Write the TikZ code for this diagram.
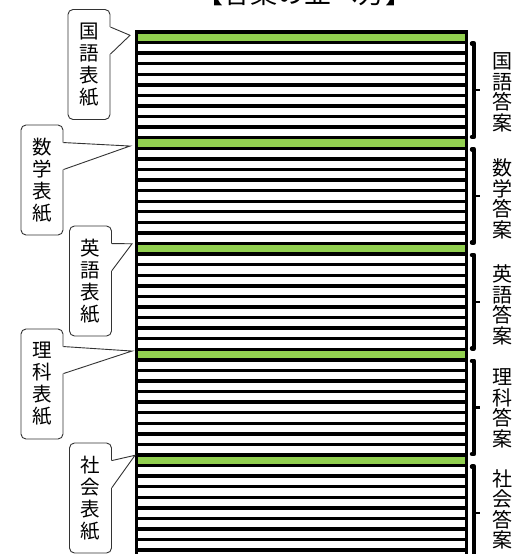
\documentclass[tikz,border=0pt]{standalone}
\usepackage{fontspec}
\newfontfamily\jp{Noto Sans CJK JP}
\usetikzlibrary{calc}
\definecolor{papergreen}{HTML}{92D050}
\tikzset{
  sheet/.style={draw=black, line width=3.4pt, minimum width=330pt, minimum height=10.575pt, inner sep=0pt, outer sep=0pt},
  calloutbox/.style={draw=black!80, line width=0.9pt, fill=white, rounded corners=5pt, minimum width=42pt, minimum height=110pt, inner sep=2pt, align=center, font=\jp\fontsize{19.5}{22}\selectfont},
  calloutline/.style={draw=black!80, line width=0.9pt, line join=miter},
  bracketline/.style={line width=4.5pt, line join=round, line cap=round},
  ticklinestyle/.style={line width=2.2pt},
  anslabel/.style={align=center, inner sep=0pt, font=\jp\fontsize{20}{20.5}\selectfont},
}
\begin{document}
\begin{tikzpicture}[x=1pt,y=-1pt]
\path[use as bounding box] (0,0) rectangle (513,554);
\clip (0,0) rectangle (513,554);
\fill[white] (0,0) rectangle (513,554);
% title
\node[anchor=base, inner sep=0pt, font=\jp\fontsize{27}{27}\selectfont] (title) at (304.5,3.4) {【答案の並べ方】};
% sheets
\foreach \i in {0,...,49}{
  \pgfmathtruncatemacro\m{mod(\i,10)}
  \ifnum\m=0 \def\fc{papergreen}\else\def\fc{white}\fi
  \node[sheet, fill=\fc] (s\i) at (301.5, 37.2875+10.575*\i) {};
}
% brackets
\foreach \k in {0,...,4}{
  \pgfmathtruncatemacro\a{10*\k+1}
  \pgfmathtruncatemacro\b{10*\k+9}
  \coordinate (bt\k) at ($(s\a.north east)+(7.5,1)$);
  \coordinate (bb\k) at ($(s\b.south east)+(7.5,-1)$);
  \coordinate (bm\k) at ($(bt\k)!.5!(bb\k)$);
  \draw[bracketline] ($(bt\k)+(-2,0)$) -- (bt\k) -- (bb\k) -- ($(bb\k)+(-2,0)$);
  \draw[ticklinestyle] (bm\k) -- ++(6,0);
}
\node[anslabel] (a0) at ($(bm0)+(28,2)$) {国\\語\\答\\案};
\node[anslabel] (a1) at ($(bm1)+(28,3)$) {数\\学\\答\\案};
\node[anslabel] (a2) at ($(bm2)+(28,3)$) {英\\語\\答\\案};
\node[anslabel] (a3) at ($(bm3)+(28,1)$) {理\\科\\答\\案};
\node[anslabel] (a4) at ($(bm4)+(28,-4)$) {社\\会\\答\\案};
% callouts
\node[calloutbox] (c0) at (89,64.5) {国\\語\\表\\紙};
\node[calloutbox] (c1) at (42,180) {数\\学\\表\\紙};
\node[calloutbox] (c2) at (90.5,281) {英\\語\\表\\紙};
\node[calloutbox] (c3) at (42,384) {理\\科\\表\\紙};
\node[calloutbox] (c4) at (90.5,498) {社\\会\\表\\紙};
\coordinate (t0) at ($(s0.west)+(-6.5,-2)$);
\coordinate (t1) at ($(s10.west)+(-6.5,3)$);
\coordinate (t2) at ($(s20.west)+(-4.5,-5)$);
\coordinate (t3) at ($(s30.west)+(-4.5,-3.5)$);
\coordinate (t4) at ($(s40.west)+(-1.5,-5)$);
\foreach \k in {0,...,4}{
  \fill[white] ($(c\k.north east)+(-2,18)$) -- ($(c\k.north east)+(0,18)$) -- (t\k) -- ($(c\k.north east)+(0,45)$) -- ($(c\k.north east)+(-2,45)$) -- cycle;
  \draw[calloutline] ($(c\k.north east)+(0,18)$) -- (t\k) -- ($(c\k.north east)+(0,45)$);
}
\end{tikzpicture}
\end{document}
